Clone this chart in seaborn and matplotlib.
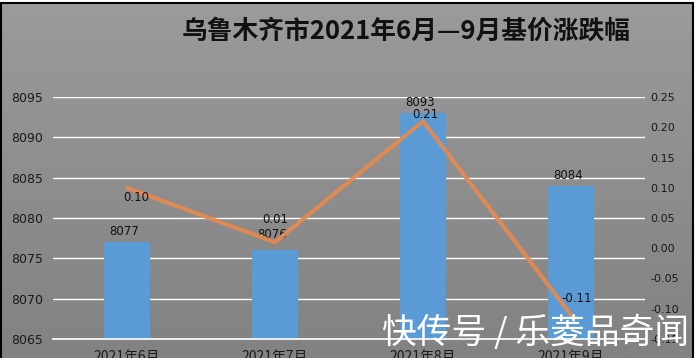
import numpy as np
import pandas as pd
import matplotlib
matplotlib.use("Agg")
import matplotlib.pyplot as plt
import seaborn as sns
from matplotlib.patches import Rectangle

months = ["2021年6月", "2021年7月", "2021年8月", "2021年9月"]
base_price = [8077, 8076, 8093, 8084]
change_pct = [0.10, 0.01, 0.21, -0.11]
left_ticks = [8065, 8070, 8075, 8080, 8085, 8090, 8095]
right_ticks = [-0.15, -0.10, -0.05, 0.00, 0.05, 0.10, 0.15, 0.20, 0.25]
title_text = "乌鲁木齐市2021年6月—9月基价涨跌幅"
watermark = "快传号 / 乐菱品奇闻"

sns.set_theme(style="white")
plt.rcParams['font.family'] = ['Noto Sans CJK SC', 'DejaVu Sans']

W, H = 698, 358
fig = plt.figure(figsize=(W / 100, H / 100), dpi=100)
fig.patch.set_facecolor("white")

# background gradient panel
bg = fig.add_axes([0, 0, 1, 1], zorder=-10)
grad = np.linspace(0, 1, 256).reshape(-1, 1)
top = np.array([0x9c, 0x9a, 0x9c]) / 255
bot = np.array([0x82, 0x82, 0x82]) / 255
img = top[None, None, :] * (1 - grad[:, :, None]) + bot[None, None, :] * grad[:, :, None]
bg.imshow(img, aspect="auto", extent=[0, 693 / W, 0, 1 - 2 / H], transform=bg.transAxes)
bg.set_xlim(0, 1)
bg.set_ylim(0, 1)
bg.add_patch(Rectangle((1 / W, -0.01), 692 / W, 1 - 2.5 / H + 0.01, transform=bg.transAxes,
                       fill=False, edgecolor="black", linewidth=1.5))
bg.axis("off")

df = pd.DataFrame({"month": months, "price": base_price, "pct": change_pct})

ax = fig.add_axes([53 / W, 19 / H, 592 / W, 242 / H])
ax.set_facecolor("none")
sns.barplot(data=df, x="month", y="price", color="#5B9BD5", width=0.31,
            saturation=1, ax=ax, zorder=2, edgecolor="none", linewidth=0)
ax.set_ylim(8065, 8095)
ax.set_xlim(-0.5, 3.5)
ax.set_yticks(left_ticks)
ax.set_yticklabels([str(t) for t in left_ticks], fontsize=9, color="#1a1a1a",
                   family="DejaVu Sans")
ax.yaxis.grid(True, color="white", linewidth=1, zorder=0)
ax.set_axisbelow(True)
for s in ["top", "left", "right"]:
    ax.spines[s].set_visible(False)
ax.spines["bottom"].set_color("white")
ax.spines["bottom"].set_linewidth(1.2)
ax.set_xlabel("")
ax.set_ylabel("")
ax.tick_params(axis="y", length=0, pad=7)
ax.set_xticks(range(len(months)))
ax.set_xticklabels(months, fontsize=10, color="#1a1a1a")
ax.tick_params(axis="x", length=0, pad=8)
# minor ticks at category boundaries
ax.set_xticks(np.arange(-0.5, len(months), 1), minor=True)
ax.tick_params(axis="x", which="minor", length=5, color="white", width=1, direction="out")

bar_offsets = [(-2, 3), (-2, 7), (-2, 3), (-2, 3)]
for i, v in enumerate(base_price):
    dx, dy = bar_offsets[i]
    ax.annotate(str(v), (i, v), xytext=(dx, dy), textcoords="offset points",
                ha="center", va="bottom", fontsize=8.5, color="#111111",
                family="DejaVu Sans", zorder=5)

ax2 = ax.twinx()
ax2.set_facecolor("none")
sns.lineplot(data=df, x="month", y="pct", color="#E38A52", linewidth=3, ax=ax2,
             zorder=3, alpha=0.95)
ax2.set_ylim(-0.15, 0.25)
ax2.set_yticks(right_ticks)
ax2.set_yticklabels([f"{t:.2f}" for t in right_ticks], fontsize=8, color="#1a1a1a",
                    family="DejaVu Sans")
ax2.tick_params(axis="y", length=0, pad=4)
for s in ax2.spines.values():
    s.set_visible(False)
ax2.set_ylabel("")
ax2.set_xlabel("")
ax2.set_xlim(-0.5, 3.5)

pct_offsets = [(7, -7), (0, 16), (2, 5), (4, 12)]
for i, v in enumerate(change_pct):
    dx, dy = pct_offsets[i]
    ax2.annotate(f"{v:.2f}", (i, v), xytext=(dx, dy), textcoords="offset points",
                 ha="center", va="center", fontsize=8.5, color="#111111",
                 family="DejaVu Sans", zorder=6)

fig.text(406 / W, 1 - 31 / H, title_text, ha="center", va="center", fontsize=18.5,
         fontweight="bold", color="#111111")

fig.text(536 / W, 1 - 333 / H, watermark, ha="center", va="center", fontsize=25,
         color="white", zorder=20)

fig.savefig("out.png", dpi=100, facecolor=fig.get_facecolor())
